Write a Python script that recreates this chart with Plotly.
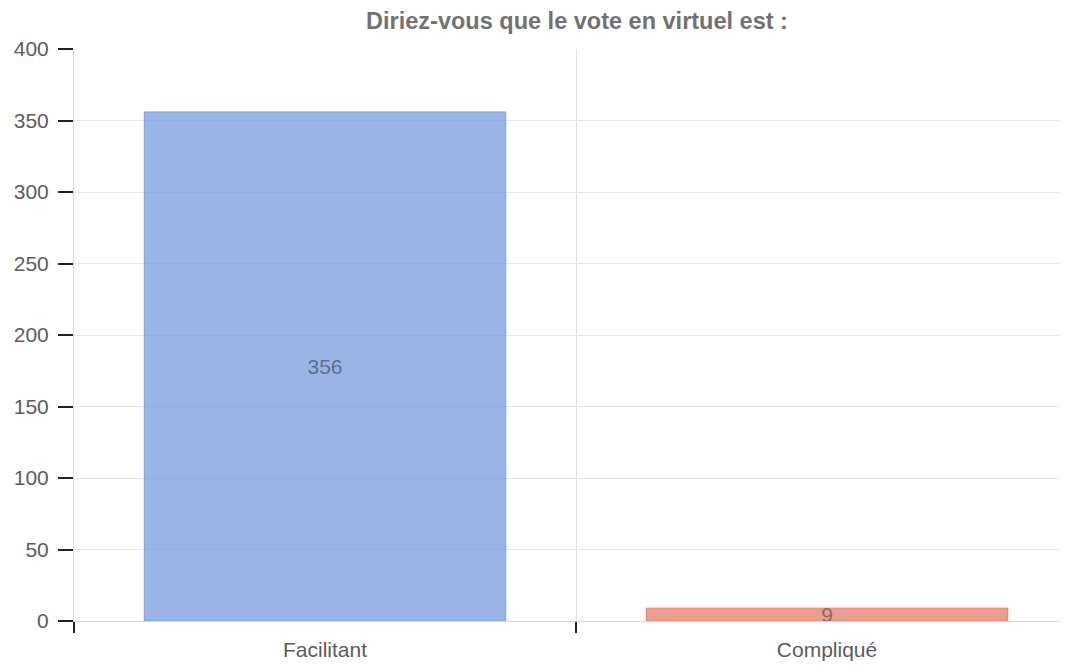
import plotly.graph_objects as go

categories = ["Facilitant", "Compliqué"]
values = [356, 9]
colors = ["rgba(120,155,220,0.75)", "rgba(228,125,100,0.75)"]
line_colors = ["rgba(120,155,220,0.9)", "rgba(228,125,100,0.9)"]
text_colors = ["#5f6f92", "#8a6a62"]
title_text = "Diriez-vous que le vote en virtuel est :"
y_ticks = [0, 50, 100, 150, 200, 250, 300, 350, 400]

fig = go.Figure()
fig.add_trace(go.Bar(
    x=categories, y=values, width=0.72,
    marker=dict(color=colors, line=dict(color=line_colors, width=1)),
    text=[str(v) for v in values], textposition="inside", textangle=0,
    insidetextanchor="middle",
    textfont=dict(color=text_colors, size=21, family="Liberation Sans, Arial"),
    cliponaxis=False, constraintext="none",
))
fig.update_layout(
    width=1060, height=657,
    margin=dict(l=66, r=0, t=41, b=44, autoexpand=False),
    paper_bgcolor="white", plot_bgcolor="white",
    showlegend=False,
    uniformtext=dict(minsize=21, mode="show"),
    font=dict(family="Liberation Sans, Arial", color="#5c5c5c"),
    title=dict(text="<b>" + title_text + "</b>", x=569 / 1060, xanchor="center",
               y=1 - 13 / 657, yanchor="middle",
               font=dict(size=23.5, color="#727272")),
)
fig.update_xaxes(
    type="category", range=[-0.5, 1.48], automargin=False,
    tickson="boundaries", ticks="outside", ticklen=11, tickcolor="#222", tickwidth=2,
    ticklabelstandoff=10,
    showgrid=True, gridcolor="#e0e0e0",
    showline=True, linecolor="#d8d8d8", linewidth=1,
    tickfont=dict(size=21, color="#5c5c5c"),
)
fig.update_yaxes(
    range=[0, 400], tickvals=y_ticks, automargin=False,
    ticks="outside", ticklen=15, tickcolor="#222", tickwidth=2,
    ticklabelstandoff=5,
    showgrid=True, gridcolor="#e8e8e8", zeroline=False,
    showline=True, linecolor="#d8d8d8", linewidth=1,
    tickfont=dict(size=21, color="#5c5c5c"),
)
fig.write_html("out.html")
